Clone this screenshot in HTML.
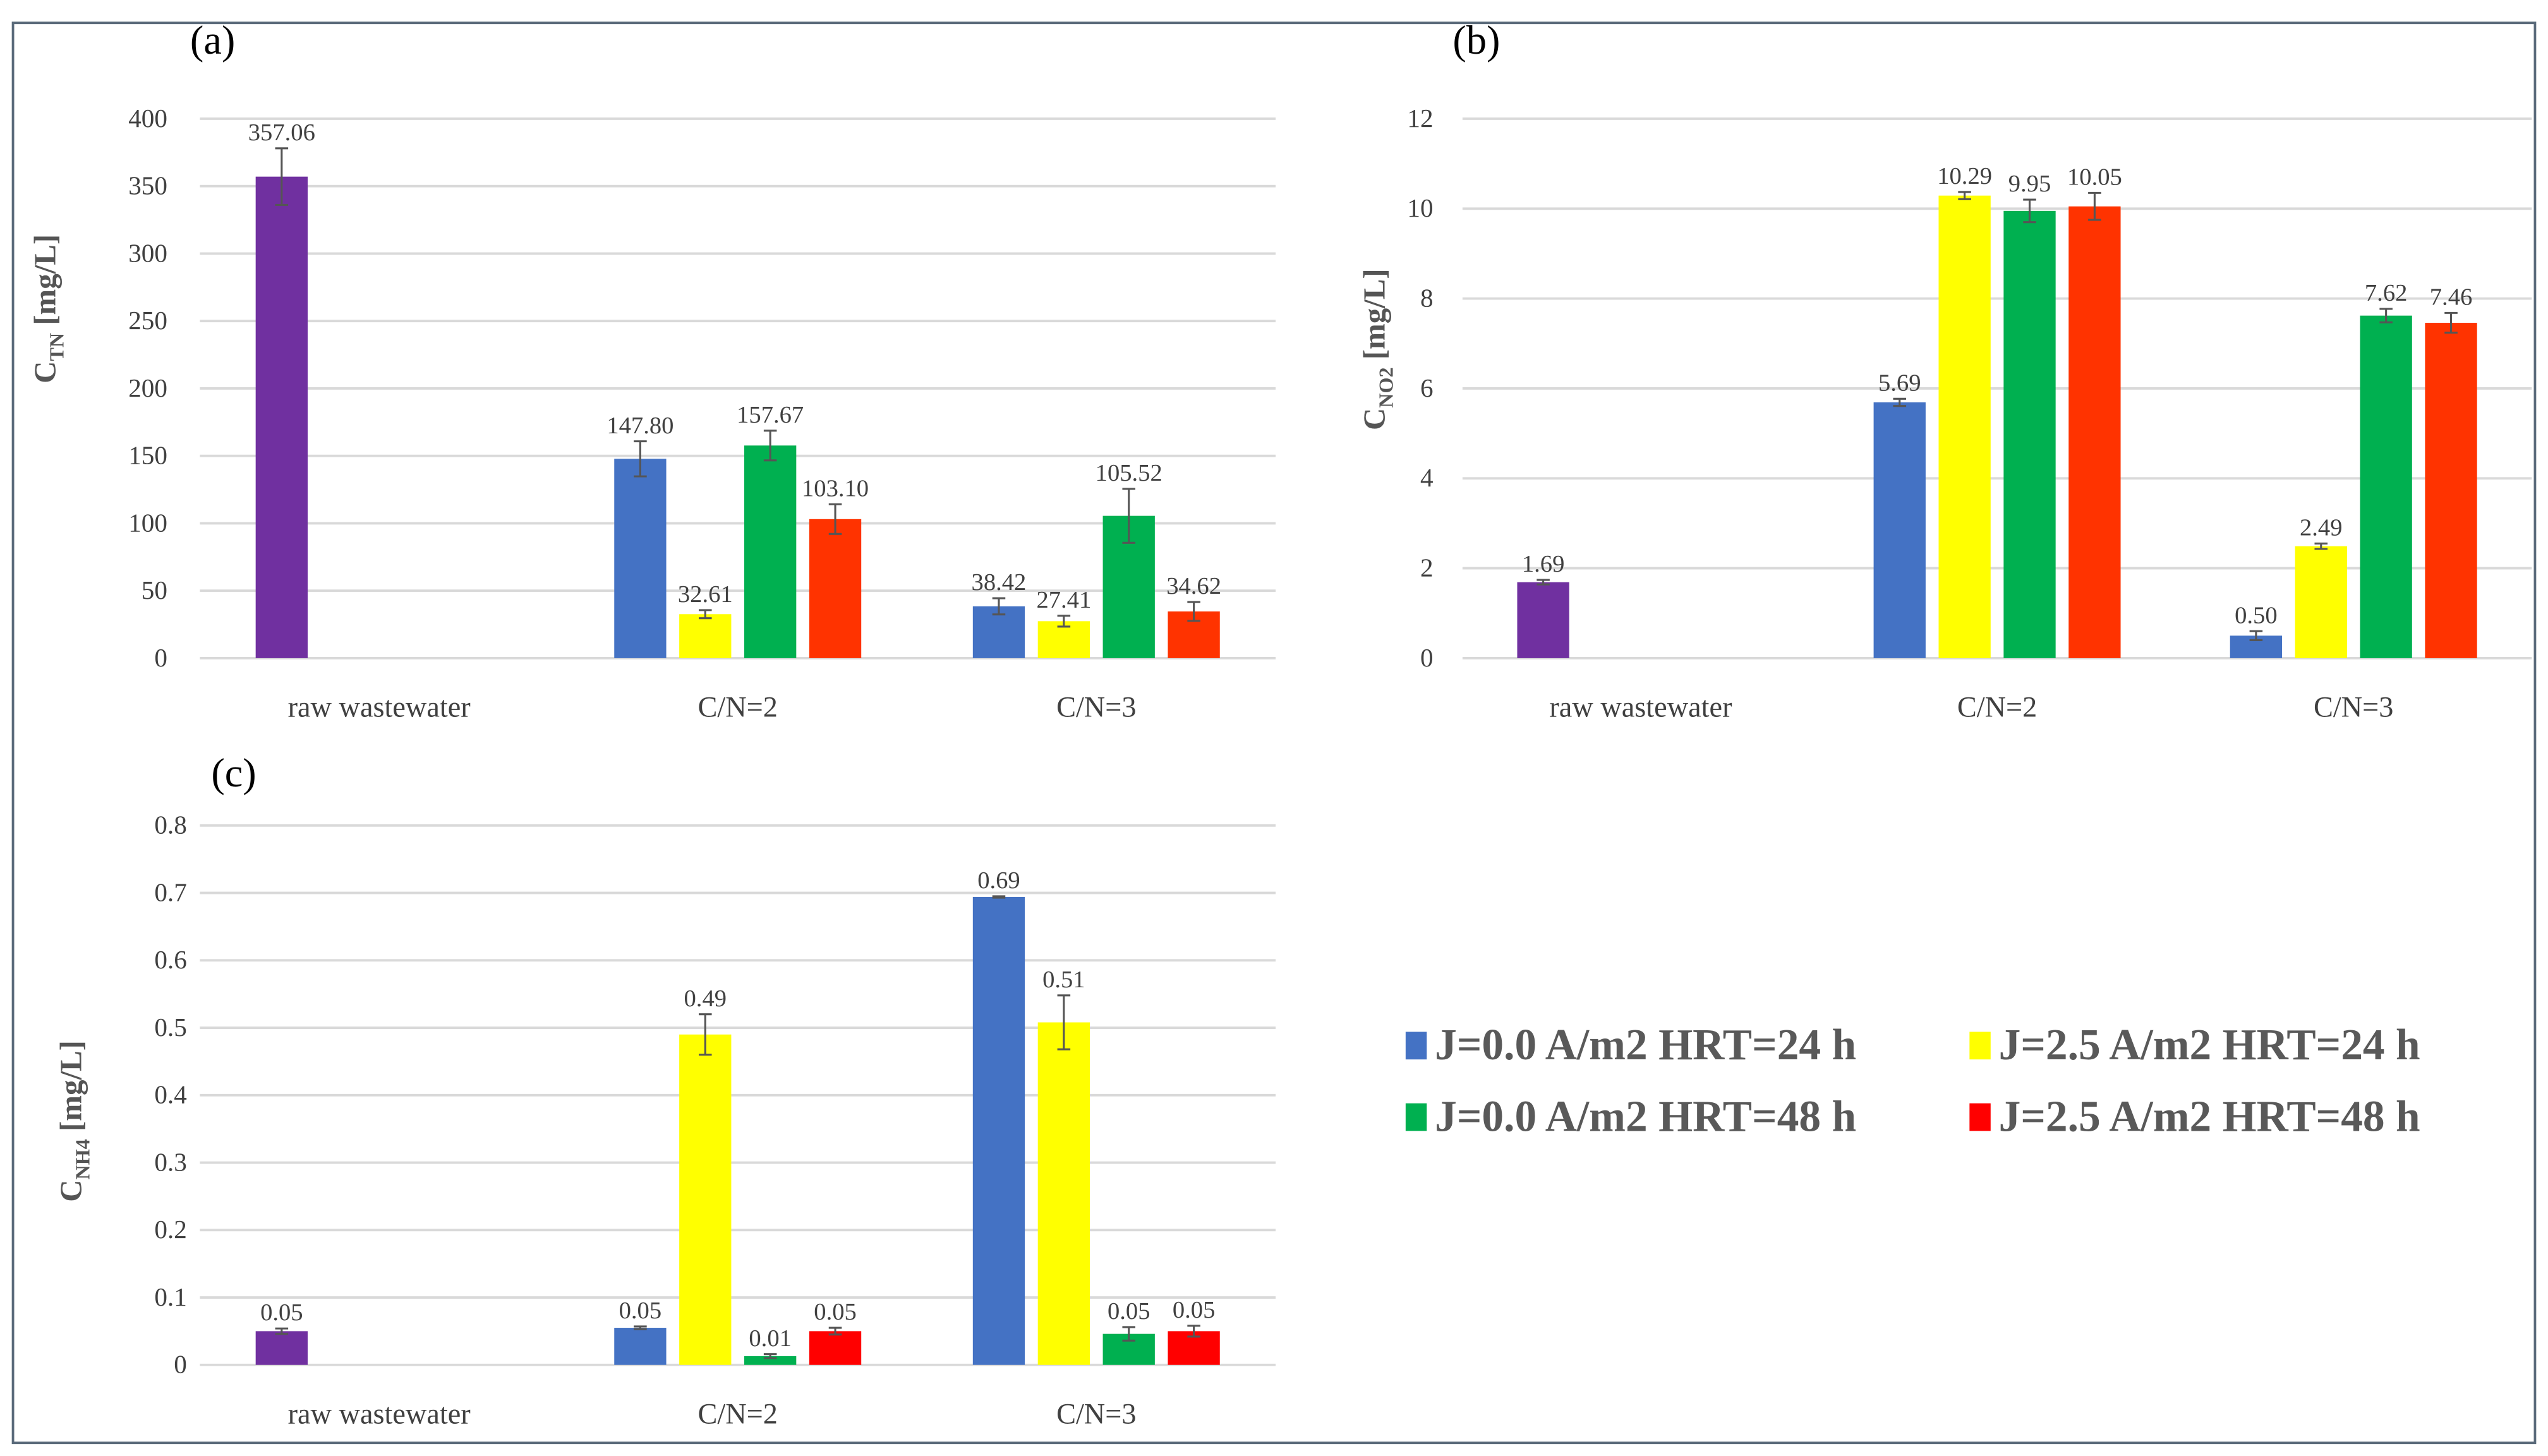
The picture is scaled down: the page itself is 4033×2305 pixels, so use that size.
<!DOCTYPE html>
<html><head><meta charset="utf-8"><style>
html,body{margin:0;padding:0;background:#fff;}
svg{display:block;}
text{font-family:"Liberation Serif",serif;}
</style></head><body>
<svg id="chart" width="4033" height="2305" viewBox="0 0 1568 896" xmlns="http://www.w3.org/2000/svg">
<rect x="8" y="14" width="1552" height="874" fill="#fff" stroke="#5a6a7a" stroke-width="1.5"/>
<g id="panels"></g>
<g id="legend"></g>
</svg>
<script>
const categories = ["raw wastewater", "C/N=2", "C/N=3"];
const seriesNames = ["J=0.0 A/m2 HRT=24 h","J=2.5 A/m2 HRT=24 h","J=0.0 A/m2 HRT=48 h","J=2.5 A/m2 HRT=48 h"];
// panel (a) C_TN
const tnValues = [[357.06,null,null,null],[147.80,32.61,157.67,103.10],[38.42,27.41,105.52,34.62]];
const tnErrors = [[21,0,0,0],[13,3,11,11],[6,4,20,7]];
const tnLabels = [["357.06"],["147.80","32.61","157.67","103.10"],["38.42","27.41","105.52","34.62"]];
const tnTicks = [0,50,100,150,200,250,300,350,400];
// panel (b) C_NO2
const no2Values = [[1.69,null,null,null],[5.69,10.29,9.95,10.05],[0.50,2.49,7.62,7.46]];
const no2Errors = [[0.05,0,0,0],[0.08,0.08,0.25,0.3],[0.1,0.06,0.15,0.22]];
const no2Labels = [["1.69"],["5.69","10.29","9.95","10.05"],["0.50","2.49","7.62","7.46"]];
const no2Ticks = [0,2,4,6,8,10,12];
// panel (c) C_NH4
const nh4Values = [[0.05,null,null,null],[0.055,0.49,0.013,0.05],[0.694,0.508,0.046,0.05]];
const nh4Errors = [[0.004,0,0,0],[0.002,0.03,0.003,0.005],[0.001,0.04,0.01,0.008]];
const nh4Labels = [["0.05"],["0.05","0.49","0.01","0.05"],["0.69","0.51","0.05","0.05"]];
const nh4Ticks = ["0","0.1","0.2","0.3","0.4","0.5","0.6","0.7","0.8"];

const NS = "http://www.w3.org/2000/svg";
function mk(tag, attrs, parent){const e=document.createElementNS(NS,tag);for(const k in attrs)e.setAttribute(k,attrs[k]);parent.appendChild(e);return e;}

function panel(opt){
  const g = mk('g',{},document.getElementById('panels'));
  
  
  const max = opt.max;
  const y = v => opt.y0 - (v/max)*(opt.y0-opt.y1);
  const catW = (opt.x1-opt.x0)/categories.length;
  const slot = 40, bw = 32;
  opt.ticks.forEach(t=>{
    const v = parseFloat(t);
    const ln = mk('line',{x1:opt.x0,x2:opt.x1,y1:y(v),y2:y(v),stroke:'#d9d9d9','stroke-width':1.5},g);
    
    
    const tx = mk('text',{x:opt.tickX,y:y(v)+5,'text-anchor':'end','font-size':16,fill:'#404040'},g);
    tx.textContent = t;
    
    
  });
  categories.forEach((c,ci)=>{
    const cx = opt.x0 + catW*(ci+0.5);
    const start = cx - 2*slot + (slot-bw)/2;
    const cl = mk('text',{x:cx,y:opt.catY,'text-anchor':'middle','font-size':18,fill:'#404040'},g);
    cl.textContent = c;
    
    
    opt.values[ci].forEach((v,si)=>{
      if(v===null) return;
      const bx = start + si*slot;
      const color = ci===0 ? '#7030a0' : opt.colors[si];
      const r = mk('rect',{x:bx,y:y(v),width:bw,height:opt.y0-y(v),fill:color},g);
      
      
      const e = opt.errors[ci][si];
      const mx = bx+bw/2;
      const eb = mk('path',{d:`M${mx},${y(v+e)}V${y(Math.max(0,v-e))}M${mx-4},${y(v+e)}H${mx+4}M${mx-4},${y(Math.max(0,v-e))}H${mx+4}`,stroke:'#555',fill:'none','stroke-width':1.2},g);
      
      
      const lt = mk('text',{x:mx,y:y(v+e)-5,'text-anchor':'middle','font-size':15,fill:'#404040'},g);
      lt.textContent = opt.labels[ci][si];
      
      
    });
  });
  const pl = mk('text',{x:opt.labX,y:opt.labY,'font-size':25,fill:'#000'},g);
  pl.textContent = opt.letter;
  
  
  const at = mk('text',{transform:`translate(${opt.axX},${opt.axY}) rotate(-90)`,'text-anchor':'middle','font-size':19,'font-weight':'bold',fill:'#555'},g);
  at.innerHTML = `C<tspan font-size="12.5" dy="5">${opt.sub}</tspan><tspan dy="-5"> [mg/L]</tspan>`;
  
  
}
const colA = ['#4472c4','#ffff00','#00b050','#ff3300'];
const colC = ['#4472c4','#ffff00','#00b050','#ff0000'];
panel({name:'panel-a-total-nitrogen',x0:123,x1:785,y0:405,y1:73,max:400,ticks:tnTicks.map(String),values:tnValues,errors:tnErrors,labels:tnLabels,colors:colA,tickX:103,catY:441,letter:'(a)',labX:117,labY:33,axX:34,axY:190,sub:'TN'});
panel({name:'panel-b-nitrite',x0:900,x1:1558,y0:405,y1:73,max:12,ticks:no2Ticks.map(String),values:no2Values,errors:no2Errors,labels:no2Labels,colors:colA,tickX:882,catY:441,letter:'(b)',labX:894,labY:33,axX:852,axY:215,sub:'NO2'});
panel({name:'panel-c-ammonium',x0:123,x1:785,y0:840,y1:508,max:0.8,ticks:nh4Ticks,values:nh4Values,errors:nh4Errors,labels:nh4Labels,colors:colC,tickX:115,catY:876,letter:'(c)',labX:130,labY:484,axX:50,axY:690,sub:'NH4'});

const lg = document.getElementById('legend');
const legendColors = ['#4472c4','#ffff00','#00b050','#ff0000'];
const legendPos = [[865,643],[1212,643],[865,687],[1212,687]];
seriesNames.forEach((n,i)=>{
  const [lx,ly] = legendPos[i];
  const s = mk('rect',{x:lx,y:ly-8,width:13,height:17,fill:legendColors[i]},lg);
  
  
  const t = mk('text',{x:lx+18,y:ly+9,'font-size':27,'font-weight':'bold',fill:'#595959'},lg);
  t.textContent = n;
  
  
});
</script>
</body></html>
